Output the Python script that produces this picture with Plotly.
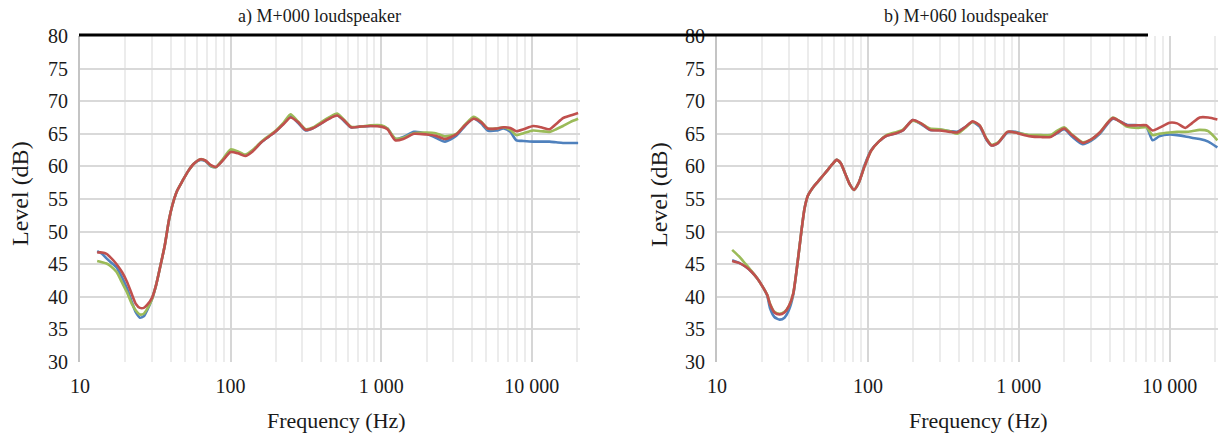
import plotly.graph_objects as go

# ---- a) M+000 loudspeaker ----
F_A = [13, 14, 15, 16, 17.5, 19, 20.5, 22, 23.5, 25, 26.5, 28, 30, 32, 34,
       36.5, 39, 41, 44, 48, 52, 57, 63, 68, 74, 80, 88, 100, 112, 125,
       140, 160, 180, 200, 225, 250, 280, 315, 355, 400, 450, 510, 570, 630, 720,
       850, 1000, 1100, 1240, 1400, 1650, 2000, 2300, 2650, 3150, 3600, 4100, 4600, 5100, 5800,
       6500, 7200, 7900, 8800, 10200, 11500, 13100, 14500, 16100, 18000, 20300]
A_RED = [46.8, 46.8, 46.6, 46.0, 45.0, 43.8, 42.3, 40.5, 38.9, 38.3,
         38.3, 38.8, 39.8, 41.8, 44.5, 47.8, 51.8, 54.0, 56.2, 57.8,
         59.2, 60.4, 61.1, 60.9, 60.2, 59.9, 60.8, 62.2, 62.0, 61.6,
         62.3, 63.7, 64.6, 65.4, 66.5, 67.5, 66.8, 65.6, 65.9, 66.6,
         67.3, 67.8, 67.0, 66.0, 66.1, 66.2, 66.1, 65.7, 64.0, 64.2,
         65.0, 64.9, 64.7, 64.2, 64.9, 66.3, 67.3, 66.8, 65.8, 65.8,
         66.0, 65.9, 65.4, 65.7, 66.2, 66.0, 65.7, 66.5, 67.4, 67.8, 68.2]
A_BLUE = [47.0, 46.6, 45.9, 45.3, 44.5, 43.0, 41.3, 39.3, 37.6, 36.8,
          37.0, 38.0, 39.6, 41.8, 44.5, 47.8, 51.8, 54.0, 56.2, 57.8,
          59.2, 60.4, 61.0, 60.8, 60.0, 59.9, 60.9, 62.4, 62.1, 61.7,
          62.4, 63.7, 64.6, 65.4, 66.6, 67.7, 66.7, 65.5, 65.9, 66.6,
          67.4, 67.9, 66.9, 66.0, 66.1, 66.2, 66.2, 65.8, 64.2, 64.5,
          65.3, 65.0, 64.4, 63.8, 64.7, 66.2, 67.4, 66.6, 65.5, 65.5,
          65.8, 65.3, 64.0, 63.9, 63.8, 63.8, 63.8, 63.7, 63.6, 63.6, 63.6]
A_GREEN = [45.5, 45.3, 45.1, 44.7, 43.8, 42.2, 40.7, 39.0, 37.9, 37.3,
           37.4, 38.2, 39.6, 41.8, 44.5, 47.8, 51.8, 54.0, 56.2, 57.8,
           59.2, 60.4, 61.1, 60.9, 60.1, 59.9, 61.0, 62.6, 62.3, 61.8,
           62.5, 63.8, 64.7, 65.5, 66.7, 68.0, 66.9, 65.7, 66.0, 66.8,
           67.5, 68.1, 67.1, 66.1, 66.1, 66.3, 66.3, 65.8, 64.3, 64.4,
           65.1, 65.2, 65.1, 64.6, 65.0, 66.4, 67.6, 66.9, 65.8, 65.8,
           66.0, 65.6, 64.8, 65.1, 65.5, 65.4, 65.3, 65.7, 66.2, 66.8, 67.3]

# ---- b) M+060 loudspeaker ----
F_B = [12.6, 14, 15.5, 17, 18.5, 20, 21.5, 22.5, 24, 26,
       28, 30, 32, 34, 36, 38, 40, 44, 48, 53,
       58, 62, 66, 71, 76, 81, 87, 95, 105, 118,
       133, 150, 170, 198, 225, 258, 300, 350, 390, 440,
       494, 550, 610, 660, 730, 840, 950, 1050, 1200, 1400,
       1620, 1800, 2000, 2250, 2650, 3000, 3440, 4200, 5200, 6200,
       7000, 7700, 8500, 10000, 11200, 12700, 14000, 15800, 18000, 20700]
B_RED = [45.5, 45.2, 44.6, 43.8, 42.8, 41.6, 40.3, 38.8, 37.6, 37.3,
         37.6, 38.6, 40.5, 44.8, 49.5, 53.5, 55.5, 57.0, 58.0, 59.2,
         60.3, 61.0, 60.5, 58.8, 57.2, 56.4, 57.5, 60.0, 62.4, 63.8,
         64.7, 65.0, 65.5, 67.1, 66.6, 65.6, 65.5, 65.3, 65.2, 66.0,
         66.9, 66.3, 64.2, 63.2, 63.6, 65.3, 65.2, 64.9, 64.6, 64.5,
         64.5, 65.2, 65.8, 64.8, 63.6, 64.1, 65.2, 67.4, 66.3, 66.3,
         66.3, 65.5, 65.9, 66.7, 66.6, 65.9, 66.6, 67.5, 67.5, 67.2]
B_BLUE = [45.6, 45.2, 44.6, 43.8, 42.8, 41.6, 40.2, 38.2, 36.9, 36.5,
          36.8, 38.0, 40.3, 44.8, 49.5, 53.5, 55.5, 57.0, 58.0, 59.2,
          60.3, 61.0, 60.5, 58.8, 57.2, 56.4, 57.5, 60.2, 62.5, 63.8,
          64.7, 65.0, 65.5, 67.1, 66.5, 65.6, 65.6, 65.4, 65.3, 66.0,
          66.8, 66.1, 64.1, 63.2, 63.6, 65.2, 65.3, 65.0, 64.7, 64.6,
          64.6, 65.1, 65.7, 64.6, 63.4, 63.9, 65.0, 67.3, 66.4, 66.3,
          66.1, 64.0, 64.6, 64.9, 64.8, 64.6, 64.4, 64.2, 63.8, 62.9]
B_GREEN = [47.2, 46.2, 45.0, 43.9, 42.8, 41.6, 40.3, 38.9, 37.7, 37.4,
           37.7, 38.6, 40.5, 44.8, 49.5, 53.5, 55.5, 57.0, 58.0, 59.2,
           60.3, 61.0, 60.5, 58.8, 57.2, 56.4, 57.5, 60.0, 62.4, 63.8,
           64.8, 65.2, 65.6, 67.0, 66.6, 65.8, 65.7, 65.4, 65.0, 65.9,
           66.8, 66.3, 64.3, 63.3, 63.7, 65.3, 65.2, 65.0, 64.8, 64.8,
           64.8, 65.5, 66.0, 64.9, 63.7, 64.1, 65.2, 67.5, 66.1, 65.9,
           66.0, 64.8, 65.0, 65.2, 65.3, 65.3, 65.4, 65.6, 65.4, 64.0]

TITLES = ["a) M+000 loudspeaker", "b) M+060 loudspeaker"]
X_TICKS = [10, 100, 1000, 10000]
X_TICKTEXT = ["10", "100", "1 000", "10 000"]
Y_TICKS = [30, 35, 40, 45, 50, 55, 60, 65, 70, 75, 80]

BLUE, GREEN, RED = "#4F81BD", "#9BBB59", "#C0504D"
FONT = "Liberation Serif, Times New Roman, serif"
INK = "#1a1a1a"
W, H = 1226, 436

minor_x = [m * 10 ** d for d in range(1, 5) for m in range(2, 10) if m * 10 ** d <= 21000]

fig = go.Figure()

panels = [
    (F_A, A_BLUE, A_GREEN, A_RED, "x", "y"),
    (F_B, B_BLUE, B_GREEN, B_RED, "x2", "y2"),
]
for f, blue, green, red, xa, ya in panels:
    for vals, col in ((blue, BLUE), (green, GREEN), (red, RED)):
        fig.add_trace(go.Scatter(
            x=f, y=vals, mode="lines", xaxis=xa, yaxis=ya,
            line=dict(color=col, width=2.6, shape="spline", smoothing=0.6),
            showlegend=False, hoverinfo="skip"))

# plot-area placement in pixels (left, right)
areas = [(80, 580), (717, 1218)]
y_bottom, y_top = 362, 36

xcommon = dict(
    type="log", range=[1, 4.32], automargin=False,
    tickvals=X_TICKS, ticktext=X_TICKTEXT, ticks="",
    showgrid=True, gridcolor="#d6d6d6", gridwidth=1.6,
    minor=dict(tickvals=minor_x, showgrid=True, gridcolor="#ececec", gridwidth=1.6, ticks=""),
    zeroline=False, showline=False, ticklabelstandoff=10,
    tickfont=dict(family=FONT, size=20, color=INK),
)
ycommon = dict(
    range=[30, 80], tickvals=Y_TICKS, ticks="", automargin=False,
    showgrid=False,
    minor=dict(tickvals=Y_TICKS[1:-1], showgrid=True, gridcolor="#d9d9d9", gridwidth=1.6, ticks=""),
    zeroline=False, showline=True, linecolor="#c4c4c4", linewidth=2,
    ticklabelstandoff=6,
    tickfont=dict(family=FONT, size=20, color=INK),
)

dom_y = [(H - y_bottom) / H, (H - y_top) / H]
layout = dict(
    width=W, height=H, margin=dict(l=0, r=0, t=0, b=0, autoexpand=False),
    paper_bgcolor="white", plot_bgcolor="white",
    xaxis=dict(xcommon, domain=[areas[0][0] / W, areas[0][1] / W], anchor="y"),
    yaxis=dict(ycommon, domain=dom_y, anchor="x"),
    xaxis2=dict(xcommon, domain=[areas[1][0] / W, areas[1][1] / W], anchor="y2"),
    yaxis2=dict(ycommon, domain=dom_y, anchor="x2"),
)
fig.update_layout(**layout)

# text positions in pixels: (title x, x-axis title x, y-axis title x)
text_pos = [(319, 336, 20), (966, 978, 659)]
annotations = []
for title, (tx, fx, lx) in zip(TITLES, text_pos):
    annotations.append(dict(text=title, x=tx / W, y=(H - 16) / H, xref="paper", yref="paper",
                            showarrow=False, xanchor="center", yanchor="middle",
                            font=dict(family=FONT, size=18, color=INK)))
    annotations.append(dict(text="Frequency (Hz)", x=fx / W, y=(H - 420) / H, xref="paper", yref="paper",
                            showarrow=False, xanchor="center", yanchor="middle",
                            font=dict(family=FONT, size=22, color=INK)))
    annotations.append(dict(text="Level (dB)", x=lx / W, y=(H - 194) / H, xref="paper", yref="paper",
                            showarrow=False, xanchor="center", yanchor="middle", textangle=-90,
                            font=dict(family=FONT, size=24, color=INK)))
fig.update_layout(annotations=annotations)

# heavy rule across the top of both panels
fig.add_shape(type="line", xref="paper", yref="paper",
              x0=79 / W, x1=1148 / W, y0=(H - 35) / H, y1=(H - 35) / H,
              line=dict(color="black", width=3), layer="above")

fig.write_html("out.html")
